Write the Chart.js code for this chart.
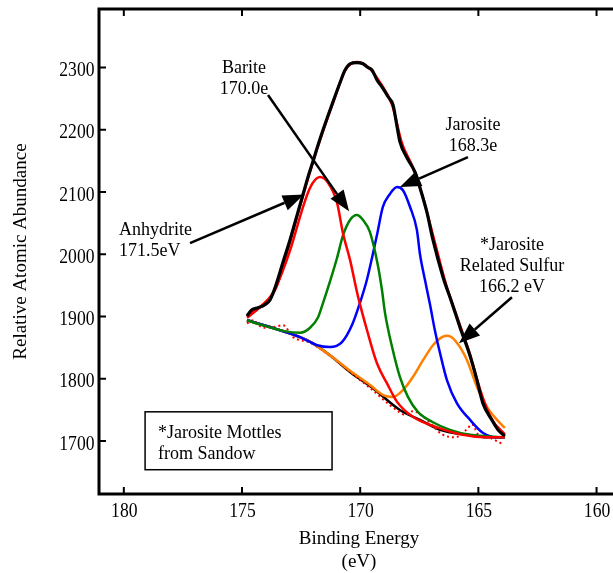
<!DOCTYPE html>
<html>
<head>
<meta charset="utf-8">
<script src="https://cdn.jsdelivr.net/npm/chart.js@4.4.0/dist/chart.umd.min.js"></script>
<style>
html, body { margin: 0; padding: 0; background: #fff; overflow: hidden; }
#wrap { width: 622px; height: 573px; position: relative; }
</style>
</head>
<body>
<div id="wrap"><canvas id="c"></canvas></div>
<script>
// tick values
var xTicks = [160, 165, 170, 175, 180];
var yTicks = [1700, 1800, 1900, 2000, 2100, 2200, 2300];

// black envelope (measured spectrum)
var envX = [174.79, 174.58, 174.32, 174.03, 173.81, 173.56, 173.26, 172.97, 172.67, 172.42, 172.21, 172.00, 171.78, 171.57, 171.15, 170.85, 170.64, 170.43, 170.14, 169.88, 169.67, 169.50, 169.29, 169.08, 168.82, 168.61, 168.44, 168.32, 168.02, 167.68, 167.47, 167.18, 166.92, 166.50, 166.12, 165.78, 165.36, 165.06, 164.81, 164.43, 164.17, 163.88];
var envY = [1901, 1911, 1914, 1919, 1927, 1951, 1988, 2023, 2063, 2096, 2124, 2149, 2176, 2200, 2245, 2276, 2296, 2306, 2308, 2306, 2300, 2296, 2280, 2269, 2253, 2240, 2205, 2181, 2155, 2132, 2107, 2068, 2023, 1964, 1922, 1883, 1838, 1798, 1761, 1734, 1718, 1708];

// red fit total (under the envelope)
var fitX = [174.79, 174.24, 173.56, 172.97, 172.42, 171.78, 171.15, 170.64, 170.14, 169.67, 169.16, 168.65, 168.23, 167.81, 167.39, 166.88, 166.37, 165.86, 165.36, 164.93, 164.43, 163.88];
var fitY = [1898, 1915, 1946, 2020, 2094, 2174, 2243, 2295, 2309, 2301, 2276, 2240, 2178, 2143, 2097, 2025, 1952, 1895, 1840, 1783, 1735, 1711];

// Anhydrite 171.5 eV (red)
var anhX = [174.79, 174.24, 173.69, 173.26, 172.96, 172.67, 172.46, 172.21, 172.00, 171.70, 171.36, 170.98, 170.73, 170.43, 170.09, 169.71, 169.29, 168.87, 168.44, 167.77, 166.75, 165.65, 164.64, 163.88];
var anhY = [1901, 1915, 1938, 1975, 2007, 2044, 2071, 2099, 2115, 2124, 2115, 2083, 2034, 1991, 1932, 1878, 1825, 1793, 1763, 1739, 1722, 1710, 1706, 1706];

// Barite 170.0 eV (green)
var barX = [174.79, 174.02, 173.26, 172.54, 172.12, 171.78, 171.57, 171.28, 170.98, 170.73, 170.43, 170.14, 169.88, 169.59, 169.25, 169.08, 168.95, 168.65, 168.32, 167.98, 167.56, 166.96, 166.20, 165.35, 163.88];
var barY = [1894, 1885, 1877, 1874, 1882, 1899, 1922, 1956, 1994, 2030, 2055, 2063, 2055, 2036, 1982, 1943, 1906, 1851, 1803, 1771, 1747, 1731, 1718, 1710, 1706];

// Jarosite 168.3 eV (blue)
var jarX = [174.79, 173.39, 172.54, 171.82, 171.28, 170.77, 170.35, 170.01, 169.71, 169.29, 169.04, 168.74, 168.44, 168.19, 167.89, 167.60, 167.47, 167.26, 167.05, 166.84, 166.62, 166.33, 165.91, 165.35, 164.80, 164.21, 163.88];
var jarY = [1894, 1878, 1867, 1854, 1851, 1859, 1886, 1922, 1960, 2031, 2076, 2097, 2108, 2103, 2076, 2039, 2000, 1959, 1920, 1878, 1841, 1798, 1761, 1734, 1713, 1706, 1706];

// Jarosite related sulfur 166.2 eV (orange)
var relX = [174.79, 173.39, 172.25, 171.28, 170.43, 169.58, 169.03, 168.61, 168.19, 167.77, 167.34, 166.92, 166.54, 166.29, 165.91, 165.48, 165.06, 164.64, 164.21, 163.88];
var relY = [1894, 1878, 1862, 1838, 1813, 1790, 1774, 1771, 1782, 1803, 1830, 1854, 1867, 1869, 1858, 1830, 1787, 1755, 1734, 1721];

// background (black) and its red dotted trace
var baseX = [174.79, 173.39, 172.25, 171.28, 170.43, 169.46, 168.32, 167.47, 166.62, 165.48, 164.64, 163.88];
var baseY = [1894, 1878, 1862, 1838, 1811, 1785, 1750, 1734, 1718, 1710, 1706, 1706];
var dotX = [174.79, 174.53, 174.11, 173.69, 173.26, 172.84, 172.12, 171.28, 170.43, 169.58, 168.40, 168.10, 167.77, 167.26, 166.54, 165.99, 165.48, 165.27, 165.02, 164.51, 163.96];
var dotY = [1889, 1894, 1882, 1883, 1886, 1867, 1858, 1837, 1811, 1785, 1748, 1742, 1748, 1737, 1711, 1706, 1719, 1727, 1711, 1705, 1695];

function pts(xs, ys) {
  return xs.map(function (v, i) { return { x: v, y: ys[i] }; });
}
function line(data, color, width, extra) {
  var d = {
    data: data, borderColor: color, borderWidth: width, pointRadius: 0,
    fill: false, tension: 0.3, cubicInterpolationMode: 'monotone'
  };
  for (var k in extra) d[k] = extra[k];
  return d;
}

var FONT = 'Liberation Serif';

// annotation texts and arrows, in data units
var notes = [
  { lines: ['Barite', '170.0e'], x: 174.92, y: 2299, align: 'center' },
  { lines: ['Anhydrite', '171.5eV'], x: 180.2, y: 2039, align: 'left' },
  { lines: ['Jarosite', '168.3e'], x: 165.23, y: 2207, align: 'center' },
  { lines: ['*Jarosite', 'Related Sulfur', '166.2 eV'], x: 163.58, y: 2014, align: 'center' }
];
var arrows = [
  [173.90, 2256, 170.47, 2069],
  [177.20, 2018, 172.38, 2096],
  [165.44, 2156, 168.32, 2108],
  [163.58, 1931, 165.82, 1857]
];
var boxNote = { x1: 179.10, y1: 1747, x2: 171.19, y2: 1654, tx: 178.55, lines: ['*Jarosite Mottles', 'from Sandow'] };

// narrow, tall tick numbers like the original
function tickText(ctx, txt, x, y, align) {
  ctx.save();
  ctx.translate(x, y);
  ctx.scale(0.8, 1);
  ctx.textAlign = align;
  ctx.textBaseline = 'alphabetic';
  ctx.font = '22px "' + FONT + '"';
  ctx.fillText(txt, 0, 0);
  ctx.restore();
}

var decor = {
  id: 'decor',
  afterDraw: function (chart) {
    var ctx = chart.ctx, a = chart.chartArea, xs = chart.scales.x, ys = chart.scales.y;
    ctx.save();
    // frame
    ctx.strokeStyle = '#000';
    ctx.lineWidth = 3;
    ctx.strokeRect(a.left, a.top, a.right - a.left, a.bottom - a.top);
    // inner ticks and their numbers
    ctx.lineWidth = 2;
    ctx.fillStyle = '#000';
    ctx.beginPath();
    xTicks.forEach(function (v) {
      var p = xs.getPixelForValue(v);
      ctx.moveTo(p, a.bottom); ctx.lineTo(p, a.bottom - 7);
      ctx.moveTo(p, a.top); ctx.lineTo(p, a.top + 7);
      tickText(ctx, String(v), p + 0.5, a.bottom + 22.5, 'center');
    });
    yTicks.forEach(function (v) {
      var p = ys.getPixelForValue(v);
      ctx.moveTo(a.left, p); ctx.lineTo(a.left + 7, p);
      tickText(ctx, String(v), a.left - 4.5, p + 8.5, 'right');
    });
    ctx.stroke();

    // labels
    ctx.font = '18px "' + FONT + '"';
    ctx.textBaseline = 'middle';
    notes.forEach(function (n) {
      ctx.textAlign = n.align;
      var px = xs.getPixelForValue(n.x), py = ys.getPixelForValue(n.y);
      n.lines.forEach(function (t, i) { ctx.fillText(t, px, py + i * 21); });
    });

    // arrows
    arrows.forEach(function (ar) {
      var x1 = xs.getPixelForValue(ar[0]), y1 = ys.getPixelForValue(ar[1]);
      var x2 = xs.getPixelForValue(ar[2]), y2 = ys.getPixelForValue(ar[3]);
      var ang = Math.atan2(y2 - y1, x2 - x1), hl = 21, hw = 8;
      var bx = x2 - hl * Math.cos(ang), by = y2 - hl * Math.sin(ang);
      ctx.lineWidth = 2.5;
      ctx.beginPath(); ctx.moveTo(x1, y1); ctx.lineTo(bx, by); ctx.stroke();
      ctx.beginPath();
      ctx.moveTo(x2, y2);
      ctx.lineTo(bx + hw * Math.sin(ang), by - hw * Math.cos(ang));
      ctx.lineTo(bx - hw * Math.sin(ang), by + hw * Math.cos(ang));
      ctx.closePath(); ctx.fill();
    });

    // boxed note
    var bx1 = xs.getPixelForValue(boxNote.x1), by1 = ys.getPixelForValue(boxNote.y1);
    var bx2 = xs.getPixelForValue(boxNote.x2), by2 = ys.getPixelForValue(boxNote.y2);
    ctx.lineWidth = 1.5;
    ctx.strokeRect(bx1, by1, bx2 - bx1, by2 - by1);
    ctx.textAlign = 'left';
    var tx = xs.getPixelForValue(boxNote.tx);
    boxNote.lines.forEach(function (t, i) { ctx.fillText(t, tx, by1 + 21 + i * 21); });
    ctx.restore();
  }
};

Chart.defaults.font.family = FONT;
Chart.defaults.color = '#000';

new Chart(document.getElementById('c'), {
  type: 'line',
  data: {
    datasets: [
      line(pts(envX, envY), '#000000', 3.2),
      line(pts(fitX, fitY), '#ff0000', 2.5),
      line(pts(anhX, anhY), '#ff0000', 2.5),
      line(pts(barX, barY), '#008000', 2.5),
      line(pts(jarX, jarY), '#0000ff', 2.5),
      line(pts(relX, relY), '#ff7f00', 2.5),
      line(pts(dotX, dotY), '#ff0000', 2, { borderDash: [2, 3] }),
      line(pts(baseX, baseY), '#000000', 2.5)
    ]
  },
  options: {
    responsive: true,
    maintainAspectRatio: false,
    animation: false,
    layout: { padding: { top: 9, right: 3, left: 0, bottom: 0 } },
    plugins: { legend: { display: false }, tooltip: { enabled: false } },
    scales: {
      x: {
        type: 'linear', reverse: true, min: 159.05, max: 181.05,
        afterBuildTicks: function (s) { s.ticks = xTicks.map(function (v) { return { value: v }; }); },
        afterFit: function (s) { s.height = 79; s.paddingLeft = 0; s.paddingRight = 0; },
        grid: { display: false, drawTicks: false },
        border: { display: false },
        ticks: { display: false },
        title: { display: true, text: ['Binding Energy', '(eV)'], font: { size: 19 }, padding: 0 }
      },
      y: {
        type: 'linear', min: 1615, max: 2394,
        afterBuildTicks: function (s) { s.ticks = yTicks.map(function (v) { return { value: v }; }); },
        afterFit: function (s) { s.width = 99; s.paddingTop = 0; s.paddingBottom = 0; },
        grid: { display: false, drawTicks: false },
        border: { display: false },
        ticks: { display: false },
        title: { display: true, text: 'Relative Atomic Abundance', font: { size: 19 }, padding: { top: 10, bottom: 0 } }
      }
    }
  },
  plugins: [decor]
});
</script>
</body>
</html>
